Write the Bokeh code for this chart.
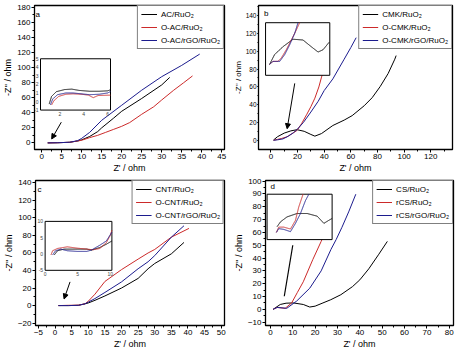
import numpy as np
from bokeh.plotting import figure
from bokeh.layouts import column, row
from bokeh.models import Range1d, SingleIntervalTicker, Arrow, NormalHead
from bokeh.core.properties import value
from bokeh.embed import file_html
from bokeh.resources import INLINE

FONT = "Liberation Sans"
BLACK = "#000000"
RED = "#cc2a2a"
BLUE = "#1c1c8e"

# ---------------- Panel a ----------------
a_labels = ["AC/RuO\u2082", "O-AC/RuO\u2082", "O-AC/rGO/RuO\u2082"]
a1_x = [1.5, 4, 7, 9, 10, 12, 14, 15, 18, 20, 25, 30, 32]
a1_y = [0, 0.2, 0.8, 2.5, 4, 8.5, 15, 20, 33, 42, 59, 77, 87]
a2_x = [1.5, 4, 7, 9, 10, 12, 14, 16, 18, 20, 22, 25, 28, 30, 33, 35.5, 37.7]
a2_y = [0, 0.2, 0.8, 2.5, 3.5, 7, 10, 14, 18, 22, 27, 38, 48, 57, 70, 80, 89]
a3_x = [1.5, 4, 7, 9, 10, 12, 15, 20, 25, 30, 35, 39.5]
a3_y = [0, 0.2, 0.8, 3, 6, 14, 30, 50, 70, 88, 103, 118]
# inset a
ai1_x = [1.1, 1.3, 1.7, 2.4, 3.0, 3.6, 4.5, 5.3, 6.0, 6.3]
ai1_y = [-0.3, 0.6, 1.15, 1.4, 1.45, 1.3, 1.2, 1.2, 1.25, 1.4]
ai2_x = [1.3, 1.5, 1.9, 2.5, 3.1, 3.8, 4.4, 4.8, 5.2, 6.3]
ai2_y = [-0.4, 0.1, 0.6, 0.85, 0.9, 0.85, 0.75, 0.45, 0.7, 0.75]
ai3_x = [1.2, 1.4, 1.8, 2.5, 3.1, 3.8, 4.5, 5.3, 6.0, 6.3]
ai3_y = [-0.4, 0.3, 0.8, 1.0, 1.0, 0.9, 0.8, 0.85, 1.0, 1.2]
ai_xticks = [2, 4, 6]
ai_yticks = [-1, 0, 1, 2, 3, 4, 5]
a_arrow = (4.9, 27.5, 2.5, 5.2)

# ---------------- Panel b ----------------
b_labels = ["CMK/RuO\u2082", "O-CMK/RuO\u2082", "O-CMK/rGO/RuO\u2082"]
b1_x = [2, 5, 10, 15, 19.6, 25, 30, 33, 38, 46.5, 55, 61, 70, 76, 82, 88, 93, 94]
b1_y = [0.8, 4.5, 8.5, 11, 12.3, 10.5, 7, 5.1, 8, 17, 23, 28, 39, 48, 60.4, 75, 91, 95]
b2_x = [2, 5, 8, 12, 16, 19.6, 23, 27, 30, 33, 36, 38, 40]
b2_y = [0.5, 1.5, 2.5, 4.3, 8, 11.5, 19, 29.6, 38, 47.5, 60, 71, 80]
b3_x = [2, 5, 9, 13, 17, 20, 24.5, 30, 35.5, 40, 46.5, 55, 60, 64]
b3_y = [0.5, 1, 2, 5, 9, 13, 20.6, 32, 44, 56, 69, 91, 104, 115]
bi1_x = [2.5, 5.6, 10.8, 17.1, 23.3, 28.5, 32.7, 35.8, 39.6]
bi1_y = [2.9, 5.5, 7.6, 9.6, 9.4, 7.6, 6.2, 6.8, 8.8]
bi2_x = [2.5, 4.6, 7.7, 9.8, 12.9, 16.0, 19.1, 21.2, 22]
bi2_y = [2.9, 3.7, 3.7, 4.6, 6.8, 9.4, 12.0, 14.0, 15]
bi3_x = [2.5, 4.6, 8.8, 11.9, 15.0, 18.1, 20.2, 21]
bi3_y = [2.9, 3.7, 3.7, 5.5, 8.1, 11.1, 14.0, 15]
b_arrow = (17.9, 64, 12.2, 13.4)

# ---------------- Panel c ----------------
c_labels = ["CNT/RuO\u2082", "O-CNT/RuO\u2082", "O-CNT/rGO/RuO\u2082"]
c1_x = [1, 4, 7, 9, 10, 12, 15, 20, 25, 28, 30, 35, 38.8]
c1_y = [0, 0, 0.3, 2, 3, 6, 11, 20, 31, 42, 48, 59, 72]
c2_x = [1, 4, 7, 9, 10, 12, 15, 20, 25, 28, 30, 35, 40.3]
c2_y = [0, 0.3, 0.5, 2, 5, 13, 27.5, 41, 53, 60, 64, 78, 88]
c3_x = [1, 4, 7, 9, 10, 12, 15, 20, 25, 28, 30, 35, 38.8]
c3_y = [0, 0, 0.3, 2, 4, 8, 15, 27, 42, 50, 57, 78, 91]
ci1_x = [1.4, 1.9, 2.9, 4.9, 6.4, 7.1, 8.4, 9.4, 10.25]
ci1_y = [-0.3, 1.0, 1.5, 1.5, 1.5, 1.2, 2.0, 3.0, 4.0]
ci2_x = [0.9, 1.15, 1.9, 3.4, 4.9, 6.4, 7.4, 8.4, 9.4, 10.0, 10.25]
ci2_y = [-0.3, 1.0, 1.7, 2.2, 1.8, 1.5, 1.3, 1.7, 3.5, 5.7, 7.3]
ci3_x = [1.15, 1.6, 2.4, 3.4, 4.9, 6.4, 7.1, 8.4, 9.4, 10.25]
ci3_y = [-0.3, 1.0, 1.5, 1.0, 0.8, 0.8, 1.2, 2.7, 4.0, 6.7]
ci_xticks = [0, 5, 10]
ci_yticks = [-5, 0, 5, 10]
c_arrow = (4.5, 27, 2.7, 7.5)

# ---------------- Panel d ----------------
d_labels = ["CS/RuO\u2082", "rCS/RuO\u2082", "rCS/rGO/RuO\u2082"]
d1_x = [1.2, 4.4, 7, 10.3, 14.7, 17.6, 20, 23.5, 27, 31.5, 36.7, 40, 44, 48.5, 52.3]
d1_y = [0, 3.8, 4.8, 5, 3.8, 1.8, 2.5, 5, 7.5, 11.4, 17.7, 23, 31.6, 43, 53]
d2_x = [1.2, 3, 6.6, 9.5, 12, 14.7, 19, 22.7, 25]
d2_y = [0, 1.5, 0.8, 5, 13, 21.5, 39, 53, 62]
d3_x = [1.2, 3, 7.3, 11.7, 17.6, 22.7, 27.1, 29.4, 32, 35, 38.2]
d3_y = [0, 1.5, 0.8, 6.4, 16.5, 30, 46.8, 54.4, 64, 76, 89.8]
di1_x = [4.6, 6.2, 9.2, 13.8, 18.5, 23.1, 26.2, 28.5, 30]
di1_y = [3.4, 4.7, 6.0, 6.9, 6.9, 6.2, 4.3, 5.1, 5.6]
di2_x = [4.3, 5.4, 7.7, 10.8, 13.1, 14.6, 16.6, 17]
di2_y = [1.9, 3.3, 3.3, 2.8, 5.1, 8.6, 12.0, 13]
di3_x = [4.3, 5.4, 7.7, 10.8, 13.1, 15.4, 17.7, 20, 20.5]
di3_y = [1.9, 2.9, 2.7, 2.1, 4.3, 6.9, 10.3, 12.8, 13.5]
d_arrow = (10, 50, 6.2, 10.2)


def clip(xs, ys, xr, yr, n=40):
    xs = np.asarray(xs, float)
    ys = np.asarray(ys, float)
    fx, fy = [], []
    t = np.linspace(0, 1, n, endpoint=False)
    for i in range(len(xs) - 1):
        fx.append(xs[i] + (xs[i + 1] - xs[i]) * t)
        fy.append(ys[i] + (ys[i + 1] - ys[i]) * t)
    fx.append([xs[-1]])
    fy.append([ys[-1]])
    fx = np.concatenate(fx)
    fy = np.concatenate(fy)
    out = (fx < xr[0]) | (fx > xr[1]) | (fy < yr[0]) | (fy > yr[1])
    fx[out] = np.nan
    fy[out] = np.nan
    return fx, fy


def style_axis(ax, label, lab_size="8px", title_size="9px", tick_out=3,
               title_standoff=1, lab_standoff=1):
    ax.axis_label = label
    ax.axis_line_color = BLACK
    ax.axis_line_width = 1
    ax.major_tick_line_color = BLACK
    ax.minor_tick_line_color = BLACK
    ax.major_tick_out = tick_out
    ax.major_tick_in = 0
    ax.minor_tick_out = min(2, tick_out)
    ax.minor_tick_in = 0
    ax.major_label_text_font = FONT
    ax.major_label_text_font_size = lab_size
    ax.major_label_text_color = BLACK
    ax.major_label_standoff = lab_standoff
    ax.axis_label_text_font = FONT
    ax.axis_label_text_font_size = title_size
    ax.axis_label_text_font_style = "normal"
    ax.axis_label_text_color = BLACK
    ax.axis_label_standoff = title_standoff


def make_panel(w, h, xr, yr, xint, yint, borders, series, labels,
               letter, letter_xy, arrow, head,
               src_x, src_y, tgt_x, tgt_y, inset_series,
               inset_xticks=None, inset_yticks=None, compact_y=False):
    p = figure(width=w, height=h, x_range=Range1d(*xr), y_range=Range1d(*yr),
               output_backend="svg", toolbar_location=None,
               min_border_left=borders[0], min_border_right=borders[1],
               min_border_top=borders[2], min_border_bottom=borders[3])
    p.background_fill_color = "white"
    p.border_fill_color = "white"
    p.grid.visible = False
    p.outline_line_color = BLACK
    p.outline_line_width = 1.3
    p.xaxis.ticker = SingleIntervalTicker(interval=xint, num_minor_ticks=2)
    p.yaxis.ticker = SingleIntervalTicker(interval=yint, num_minor_ticks=2)
    style_axis(p.xaxis[0], "Z' / ohm")
    if compact_y:
        style_axis(p.yaxis[0], "-Z'' / ohm", lab_size="6.5px", title_size="8px",
                   tick_out=1, title_standoff=0, lab_standoff=1)
    else:
        style_axis(p.yaxis[0], "-Z'' / ohm")

    colors = [BLACK, RED, BLUE]
    for (xs, ys), c, lab in zip(series, colors, labels):
        p.line(xs, ys, line_color=c, line_width=1, legend_label=lab)

    lg = p.legend[0]
    lg.location = "top_right"
    lg.margin = 0
    lg.padding = 3
    lg.spacing = 3
    lg.glyph_width = 16
    lg.glyph_height = 10
    lg.label_height = 10
    lg.label_standoff = 4
    lg.label_text_font = FONT
    lg.label_text_font_size = "8px"
    lg.label_text_color = BLACK
    lg.border_line_color = BLACK
    lg.border_line_width = 1.2
    lg.background_fill_alpha = 1

    p.text(x=[letter_xy[0]], y=[letter_xy[1]], text=[letter],
           text_font=value(FONT), text_font_size="8px", text_color=BLACK,
           text_align="center", text_baseline="middle")

    # inset
    sub = p.subplot(x_source=Range1d(*src_x), y_source=Range1d(*src_y),
                    x_target=Range1d(*tgt_x), y_target=Range1d(*tgt_y))
    sub.quad(left=[src_x[0]], right=[src_x[1]], bottom=[src_y[0]], top=[src_y[1]],
             fill_color="white", line_color=BLACK, line_width=1)
    inset_colors = [BLACK, RED, BLUE]
    for (xs, ys), c in zip(inset_series, inset_colors):
        cx, cy = clip(xs, ys, src_x, src_y)
        sub.line(cx, cy, line_color=c, line_width=1)
    if inset_xticks:
        sub.text(x=inset_xticks, y=[src_y[0]] * len(inset_xticks),
                 text=[str(v) for v in inset_xticks], y_offset=2,
                 text_font=value(FONT), text_font_size="5px", text_color="#444444",
                 text_align="center", text_baseline="top")
    if inset_yticks:
        sub.text(x=[src_x[0]] * len(inset_yticks), y=inset_yticks,
                 text=[str(v) for v in inset_yticks], x_offset=-2,
                 text_font=value(FONT), text_font_size="5px", text_color="#444444",
                 text_align="right", text_baseline="middle")

    if head:
        p.add_layout(Arrow(end=NormalHead(size=5, fill_color=BLACK, line_color=BLACK),
                           x_start=arrow[0], y_start=arrow[1],
                           x_end=arrow[2], y_end=arrow[3],
                           line_color=BLACK, line_width=1))
    else:
        p.segment(x0=[arrow[0]], y0=[arrow[1]], x1=[arrow[2]], y1=[arrow[3]],
                  line_color=BLACK, line_width=1.2)
    return p


pa = make_panel(230, 175, (-1.8, 45.7), (-8.8, 182.6), 5, 20, (31, 6, 4, 25),
                [(a1_x, a1_y), (a2_x, a2_y), (a3_x, a3_y)], a_labels,
                "a", (-1.0, 171), a_arrow, True,
                (0.37, 6.25), (-1, 5), (-0.3, 17.2), (43.6, 111.8),
                [(ai1_x, ai1_y), (ai2_x, ai2_y), (ai3_x, ai3_y)],
                ai_xticks, ai_yticks)

pb = make_panel(230, 175, (-9.3, 136.3), (-9.8, 150.9), 20, 20, (22, 8, 5, 22),
                [(b1_x, b1_y), (b2_x, b2_y), (b3_x, b3_y)], b_labels,
                "b", (-3.5, 142), b_arrow, True,
                (0, 40), (0, 14), (-4.0, 44.2), (73.0, 131.7),
                [(bi1_x, bi1_y), (bi2_x, bi2_y), (bi3_x, bi3_y)],
                compact_y=True)

pc = make_panel(230, 176, (-5.9, 51.0), (-22.7, 142.6), 5, 20, (31, 6, 5, 23),
                [(c1_x, c1_y), (c2_x, c2_y), (c3_x, c3_y)], c_labels,
                "c", (-4.7, 132.5), c_arrow, True,
                (0, 10.25), (-5, 10), (-3.0, 17.1), (40.2, 96.0),
                [(ci1_x, ci1_y), (ci2_x, ci2_y), (ci3_x, ci3_y)],
                ci_xticks, ci_yticks)

pd = make_panel(230, 176, (-2.2, 81.9), (-12.6, 100.5), 10, 10, (31, 7, 5, 23),
                [(d1_x, d1_y), (d2_x, d2_y), (d3_x, d3_y)], d_labels,
                "d", (1.0, 96), d_arrow, False,
                (0, 30), (0, 12), (-1.5, 27.6), (54.4, 89.8),
                [(di1_x, di1_y), (di2_x, di2_y), (di3_x, di3_y)])

layout = column(row(pa, pb), row(pc, pd))
open("out.html", "w").write(file_html(layout, INLINE))
